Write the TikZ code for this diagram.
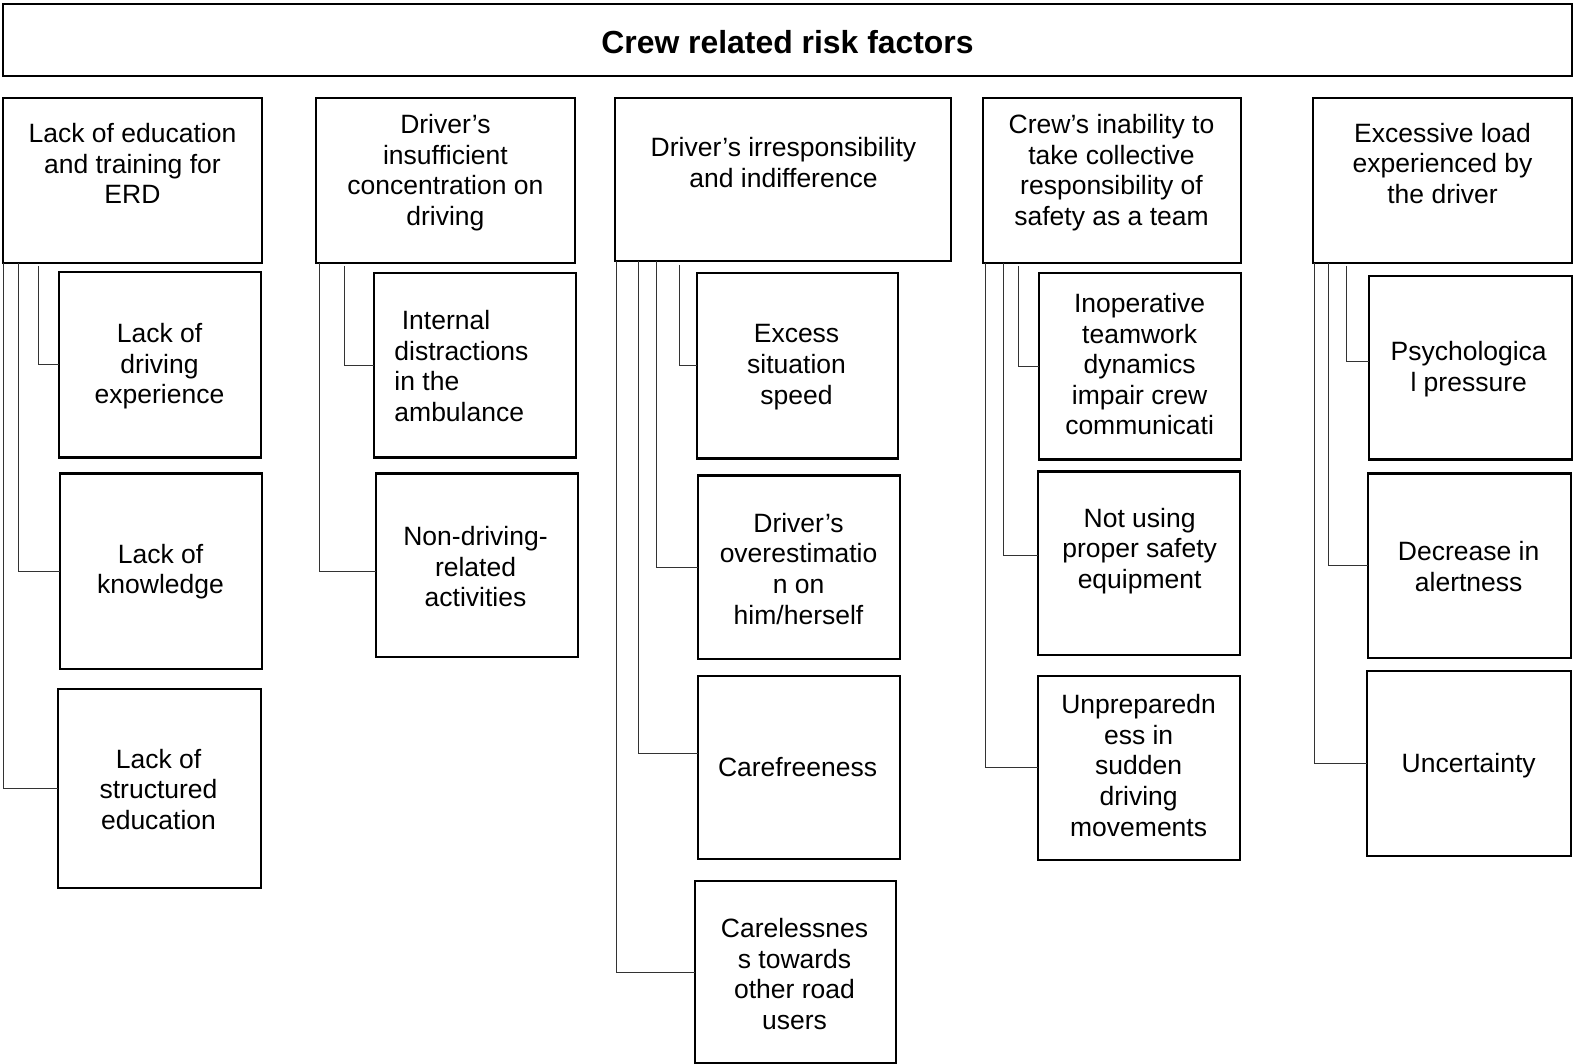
\documentclass[tikz,border=0pt]{standalone}
\usepackage{fontspec}
\setmainfont{Liberation Sans}
\usepackage{tikz}
\usetikzlibrary{calc,fit,positioning}

\tikzset{
    box/.style={draw, line width=2.2pt, inner sep=0pt, outer sep=0pt},
    txt/.style={align=center, inner sep=0pt, font={\fontsize{26.5}{30.6}\selectfont}},
    link/.style={draw=black!80, line width=1pt}
}

\begin{document}
\begin{tikzpicture}[x=1.0032pt, y=-1.0032pt]
    \useasboundingbox (0,0) rectangle (1568,1060.6);

    % title
    \node[box, fit={(3,4) (1567,76)}] (top) {};
    \node[txt, font={\bfseries\fontsize{31.9}{36}\selectfont}] (title) at (785,42) {Crew related risk factors};

    % main factors
    \node[box, fit={(3,98) (261,262)}] (p1) {};
    \node[txt] (p1t) at (132,163) {Lack of education\\and training for\\ERD};
    \node[box, fit={(315,98) (573,262)}] (p2) {};
    \node[txt] (p2t) at (444,172) {Driver’s\\insufficient\\concentration on\\driving};
    \node[box, fit={(613,98) (948,260)}] (p3) {};
    \node[txt] (p3t) at (781,162) {Driver’s irresponsibility\\and indifference};
    \node[box, fit={(980,98) (1237,262)}] (p4) {};
    \node[txt] (p4t) at (1108,172) {Crew’s inability to\\take collective\\responsibility of\\safety as a team};
    \node[box, fit={(1309,98) (1567,262)}] (p5) {};
    \node[txt] (p5t) at (1438,163) {Excessive load\\experienced by\\the driver};

    % sub factors, column 1
    \node[box, fit={(59,271) (260,456)}] (c11) {};
    \node[txt] (c11t) at (159,365) {Lack of\\driving\\experience};
    \node[box, fit={(60,472) (261,667)}] (c12) {};
    \node[txt] (c12t) at (160,570) {Lack of\\knowledge};
    \node[box, fit={(58,687) (260,885)}] (c13) {};
    \node[txt] (c13t) at (158,787) {Lack of\\structured\\education};

    % column 2
    \node[box, fit={(373,272) (574,456)}] (c21) {};
    \node[txt, align=left, anchor=west] (c21t) at (393,365) {\hspace*{0.28em}Internal\\distractions\\in the\\ambulance};
    \node[box, fit={(375,472) (576,655)}] (c22) {};
    \node[txt] (c22t) at (474,565) {Non-driving-\\related\\activities};

    % column 3
    \node[box, fit={(695,272) (895,457)}] (c31) {};
    \node[txt] (c31t) at (794,366) {Excess\\situation\\speed};
    \node[box, fit={(696,474) (897,657)}] (c32) {};
    \node[txt] (c32t) at (796,567) {Driver’s\\overestimatio\\n on\\him/herself};
    \node[box, fit={(696,674) (897,856)}] (c33) {};
    \node[txt] (c33t) at (795,765) {Carefreeness};
    \node[box, fit={(693,878) (893,1060)}] (c34) {};
    \node[txt] (c34t) at (792,971) {Carelessnes\\s towards\\other road\\users};

    % column 4
    \node[box, fit={(1036,272) (1237,458)}] (c41) {};
    \node[txt] (c41t) at (1136,363) {Inoperative\\teamwork\\dynamics\\impair crew\\communicati};
    \node[box, fit={(1035,470) (1236,653)}] (c42) {};
    \node[txt] (c42t) at (1136,549) {Not using\\proper safety\\equipment};
    \node[box, fit={(1035,674) (1236,857)}] (c43) {};
    \node[txt] (c43t) at (1135,763) {Unpreparedn\\ess in\\sudden\\driving\\movements};

    % column 5
    \node[box, fit={(1365,275) (1567,458)}] (c51) {};
    \node[txt] (c51t) at (1464,368) {Psychologica\\l pressure};
    \node[box, fit={(1364,472) (1566,656)}] (c52) {};
    \node[txt] (c52t) at (1464,565) {Decrease in\\alertness};
    \node[box, fit={(1363,669) (1566,853)}] (c53) {};
    \node[txt] (c53t) at (1464,763) {Uncertainty};

    % connectors
    \draw[link] (p1.south west) |- (c13.west);
    \draw[link] ([xshift=15pt]p1.south west) |- (c12.west);
    \draw[link] ([xshift=35pt, yshift=-3pt]p1.south west) |- (c11.west);

    \draw[link] ([xshift=3pt]p2.south west) |- ([yshift=-6pt]c22.west);
    \draw[link] ([xshift=28pt, yshift=-3pt]p2.south west) |- (c21.west);

    \draw[link] ([xshift=2pt]p3.south west) |- (c34.west);
    \draw[link] ([xshift=24pt]p3.south west) |- ([yshift=14pt]c33.west);
    \draw[link] ([xshift=42pt]p3.south west) |- (c32.west);
    \draw[link] ([xshift=65pt, yshift=-4pt]p3.south west) |- (c31.west);

    \draw[link] ([xshift=2pt]p4.south west) |- (c43.west);
    \draw[link] ([xshift=20pt]p4.south west) |- ([yshift=8pt]c42.west);
    \draw[link] ([xshift=35pt, yshift=-3pt]p4.south west) |- (c41.west);

    \draw[link] ([xshift=1pt]p5.south west) |- (c53.west);
    \draw[link] ([xshift=15pt]p5.south west) |- (c52.west);
    \draw[link] ([xshift=33pt, yshift=-3pt]p5.south west) |- ([yshift=6pt]c51.west);
\end{tikzpicture}
\end{document}
